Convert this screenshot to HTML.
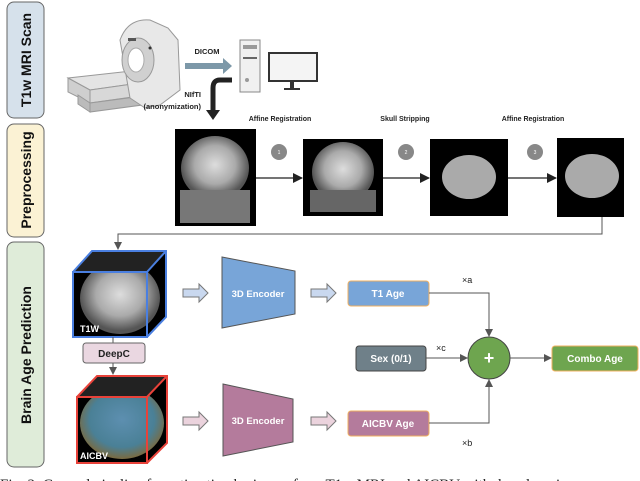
<!DOCTYPE html>
<html><head><meta charset="utf-8"><style>
html,body{margin:0;padding:0;background:#fff}
svg{display:block}
text{font-family:"Liberation Sans",sans-serif}
</style></head><body>
<svg width="640" height="481" viewBox="0 0 640 481" xmlns="http://www.w3.org/2000/svg">
<defs>
<marker id="ah" markerWidth="8" markerHeight="8" refX="7" refY="4" orient="auto" markerUnits="userSpaceOnUse"><path d="M0,0 L8,4 L0,8 z" fill="#555"/></marker>
<marker id="ahk" markerWidth="10" markerHeight="10" refX="9" refY="5" orient="auto" markerUnits="userSpaceOnUse"><path d="M0,0 L10,5 L0,10 z" fill="#222"/></marker>
<radialGradient id="br" cx="50%" cy="45%" r="50%"><stop offset="0" stop-color="#ddd"/><stop offset="0.6" stop-color="#aaa"/><stop offset="1" stop-color="#555"/></radialGradient>
<radialGradient id="bc" cx="50%" cy="45%" r="55%"><stop offset="0" stop-color="#5d8fb0"/><stop offset="0.7" stop-color="#4a8096"/><stop offset="1" stop-color="#7a6a40"/></radialGradient>
<clipPath id="c1"><path d="M73,272 L92,251 L166,251 L166,317 L147,337 L73,337 z"/></clipPath>
<clipPath id="c2"><path d="M77,397 L97,376 L167,376 L167,443 L147,463 L77,463 z"/></clipPath>
</defs>
<!-- side labels -->
<rect x="7" y="2" width="37" height="116" rx="7" fill="#d6e1eb" stroke="#666" stroke-width="1"/>
<text transform="translate(31,60) rotate(-90)" text-anchor="middle" font-size="14" font-weight="bold" fill="#111">T1w MRI Scan</text>
<rect x="7" y="124" width="37" height="113" rx="7" fill="#fbf2d4" stroke="#666"/>
<text transform="translate(31,180) rotate(-90)" text-anchor="middle" font-size="14" font-weight="bold" fill="#111">Preprocessing</text>
<rect x="7" y="242" width="37" height="225" rx="7" fill="#dfecd9" stroke="#666"/>
<text transform="translate(31,355) rotate(-90)" text-anchor="middle" font-size="14" font-weight="bold" fill="#111">Brain Age Prediction</text>

<!-- MRI machine -->
<path d="M68,78 L140,70 L160,80 L90,90 z" fill="#e4e4e4" stroke="#999"/>
<path d="M68,78 L90,90 L90,103 L68,92 z" fill="#cfcfcf" stroke="#999"/>
<path d="M90,90 L160,80 L160,93 L90,103 z" fill="#d8d8d8" stroke="#999"/>
<path d="M78,95 L90,103 L90,112 L78,104z M90,103 L150,95 L150,104 L90,112z" fill="#bbb" stroke="#999"/>
<path d="M120,40 Q128,18 150,20 L168,28 L178,40 L180,90 L160,105 L145,108 L130,98 z" fill="#e8e8e8" stroke="#999"/>
<ellipse cx="138" cy="60" rx="16" ry="22" fill="#d0d0d0" stroke="#999"/>
<ellipse cx="136" cy="60" rx="8" ry="12" fill="#fff" stroke="#aaa"/>
<rect x="128" y="38" width="8" height="3" fill="#555"/>
<circle cx="150" cy="48" r="1.5" fill="#333"/>
<!-- DICOM arrow -->
<text x="207" y="54" text-anchor="middle" font-size="7.5" font-weight="bold" fill="#222">DICOM</text>
<path d="M185,63 L223,63 L223,58 L232,66 L223,74 L223,69 L185,69 z" fill="#7c98a8"/>
<!-- computer -->
<rect x="240" y="40" width="20" height="52" fill="#f0f0f0" stroke="#888"/>
<rect x="243" y="45" width="14" height="4" fill="#999"/>
<rect x="243" y="57" width="14" height="2" fill="#666"/>
<circle cx="247" cy="80" r="2" fill="#999"/>
<rect x="268" y="52" width="50" height="30" fill="#333"/>
<rect x="270" y="54" width="46" height="26" fill="#f4f4f4"/>
<rect x="290" y="82" width="4" height="6" fill="#333"/><rect x="284" y="88" width="16" height="2" fill="#333"/>
<!-- NIfTI arrow -->
<text x="201" y="97" text-anchor="end" font-size="7.5" font-weight="bold" fill="#222">NIfTI</text>
<text x="201" y="109" text-anchor="end" font-size="7.5" font-weight="bold" fill="#222">(anonymization)</text>
<path d="M232,80 L220,80 Q213,80 213,88 L213,112" fill="none" stroke="#222" stroke-width="5"/>
<path d="M206,110 L220,110 L213,120 z" fill="#222"/>

<!-- preprocessing images -->
<rect x="175" y="129" width="81" height="97" fill="#000"/>
<ellipse cx="215" cy="168" rx="34" ry="32" fill="url(#br)"/>
<rect x="180" y="190" width="70" height="33" fill="#777"/>
<rect x="303" y="139" width="80" height="77" fill="#000"/>
<ellipse cx="343" cy="172" rx="31" ry="30" fill="url(#br)"/>
<rect x="310" y="190" width="66" height="22" fill="#666"/>
<rect x="430" y="139" width="78" height="77" fill="#000"/>
<ellipse cx="469" cy="177" rx="27" ry="22" fill="#aaa"/>
<rect x="557" y="138" width="67" height="79" fill="#000"/>
<ellipse cx="592" cy="176" rx="27" ry="22" fill="#aaa"/>
<text x="280" y="121" text-anchor="middle" font-size="7" font-weight="bold" fill="#222">Affine Registration</text>
<text x="405" y="121" text-anchor="middle" font-size="7" font-weight="bold" fill="#222">Skull Stripping</text>
<text x="533" y="121" text-anchor="middle" font-size="7" font-weight="bold" fill="#222">Affine Registration</text>
<g font-size="5" fill="#fff" text-anchor="middle">
<circle cx="279" cy="152" r="8" fill="#888"/><text x="279" y="154">1</text>
<circle cx="406" cy="152" r="8" fill="#888"/><text x="406" y="154">2</text>
<circle cx="535" cy="152" r="8" fill="#888"/><text x="535" y="154">3</text>
</g>
<line x1="256" y1="178" x2="302" y2="178" stroke="#222" stroke-width="1.2" marker-end="url(#ahk)"/>
<line x1="383" y1="178" x2="429" y2="178" stroke="#222" stroke-width="1.2" marker-end="url(#ahk)"/>
<line x1="508" y1="178" x2="556" y2="178" stroke="#222" stroke-width="1.2" marker-end="url(#ahk)"/>
<path d="M602,217 L602,234 L118,234 L118,249" fill="none" stroke="#555" stroke-width="1" marker-end="url(#ah)"/>

<!-- T1W cube -->
<path d="M73,272 L92,251 L166,251 L166,317 L147,337 L73,337 z" fill="#000"/>
<ellipse cx="120" cy="298" rx="40" ry="36" fill="url(#br)" clip-path="url(#c1)"/>
<path d="M74,271 L92,252 L165,252 L147,271 z" fill="#222"/>
<path d="M73,272 L92,251 L166,251 L166,317 L147,337 M147,272 L166,251" fill="none" stroke="#4a7fe0" stroke-width="2"/>
<rect x="73" y="272" width="74" height="65" fill="none" stroke="#4a7fe0" stroke-width="2"/>
<text x="80" y="332" font-size="9" font-weight="bold" fill="#fff">T1W</text>
<line x1="113" y1="337" x2="113" y2="343" stroke="#555"/>
<rect x="83" y="343" width="62" height="20" rx="3" fill="#ead7e1" stroke="#666"/>
<text x="114" y="357" text-anchor="middle" font-size="10" font-weight="bold" fill="#222">DeepC</text>
<line x1="113" y1="363" x2="113" y2="374" stroke="#555" marker-end="url(#ah)"/>
<!-- AICBV cube -->
<path d="M77,397 L97,376 L167,376 L167,443 L147,463 L77,463 z" fill="#000"/>
<ellipse cx="122" cy="423" rx="42" ry="36" fill="url(#bc)" clip-path="url(#c2)"/>
<path d="M78,396 L97,377 L166,377 L147,396 z" fill="#222"/>
<path d="M77,397 L97,376 L167,376 L167,443 L147,463 M147,397 L167,376" fill="none" stroke="#e8423a" stroke-width="2"/>
<rect x="77" y="397" width="70" height="66" fill="none" stroke="#e8423a" stroke-width="2"/>
<text x="80" y="459" font-size="9" font-weight="bold" fill="#fff">AICBV</text>

<!-- hollow arrows -->
<g stroke="#777" stroke-width="1">
<path d="M183,289 L199,289 L199,284 L208,293 L199,302 L199,297 L183,297 z" fill="#c9d8ef"/>
<path d="M311,289 L327,289 L327,284 L336,293 L327,302 L327,297 L311,297 z" fill="#c9d8ef"/>
<path d="M183,417 L199,417 L199,412 L208,421 L199,430 L199,425 L183,425 z" fill="#ebd3dd"/>
<path d="M311,417 L327,417 L327,412 L336,421 L327,430 L327,425 L311,425 z" fill="#ebd3dd"/>
</g>
<!-- encoders -->
<path d="M222,257 L295,271 L295,314 L222,328 z" fill="#78a5d8" stroke="#555"/>
<text x="258" y="297" text-anchor="middle" font-size="9.5" font-weight="bold" fill="#fff">3D Encoder</text>
<path d="M223,384 L293,399 L293,442 L223,456 z" fill="#b47b9c" stroke="#555"/>
<text x="258" y="424" text-anchor="middle" font-size="9.5" font-weight="bold" fill="#fff">3D Encoder</text>

<!-- output boxes -->
<rect x="348" y="281" width="81" height="25" rx="3" fill="#78a5d8" stroke="#f0b060"/>
<text x="388" y="297" text-anchor="middle" font-size="10" font-weight="bold" fill="#fff">T1 Age</text>
<rect x="356" y="346" width="70" height="25" rx="3" fill="#6f8089" stroke="#444"/>
<text x="391" y="362" text-anchor="middle" font-size="10" font-weight="bold" fill="#fff">Sex (0/1)</text>
<rect x="348" y="411" width="81" height="25" rx="3" fill="#b47b9c" stroke="#f0b060"/>
<text x="388" y="427" text-anchor="middle" font-size="10" font-weight="bold" fill="#fff">AICBV Age</text>
<rect x="552" y="346" width="86" height="25" rx="3" fill="#6ea54f" stroke="#f0b060"/>
<text x="595" y="362" text-anchor="middle" font-size="10" font-weight="bold" fill="#fff">Combo Age</text>
<circle cx="489" cy="358" r="21" fill="#6ea54f" stroke="#444"/>
<text x="489" y="364" text-anchor="middle" font-size="18" font-weight="bold" fill="#fff">+</text>
<g fill="none" stroke="#555" stroke-width="1">
<path d="M429,293 L489,293 L489,336" marker-end="url(#ah)"/>
<path d="M429,423 L489,423 L489,380" marker-end="url(#ah)"/>
<path d="M426,358 L467,358" marker-end="url(#ah)"/>
<path d="M510,358 L551,358" marker-end="url(#ah)"/>
</g>
<text x="462" y="283" font-size="9" fill="#222">×a</text>
<text x="436" y="351" font-size="9" fill="#222">×c</text>
<text x="462" y="446" font-size="9" fill="#222">×b</text>
<!-- caption -->
<text x="0" y="489" font-size="15" fill="#222" style="font-family:'Liberation Serif',serif">Fig. 2: General pipeline for estimating brain age from T1w MRI and AICBV with deep learning</text>
</svg>
</body></html>
